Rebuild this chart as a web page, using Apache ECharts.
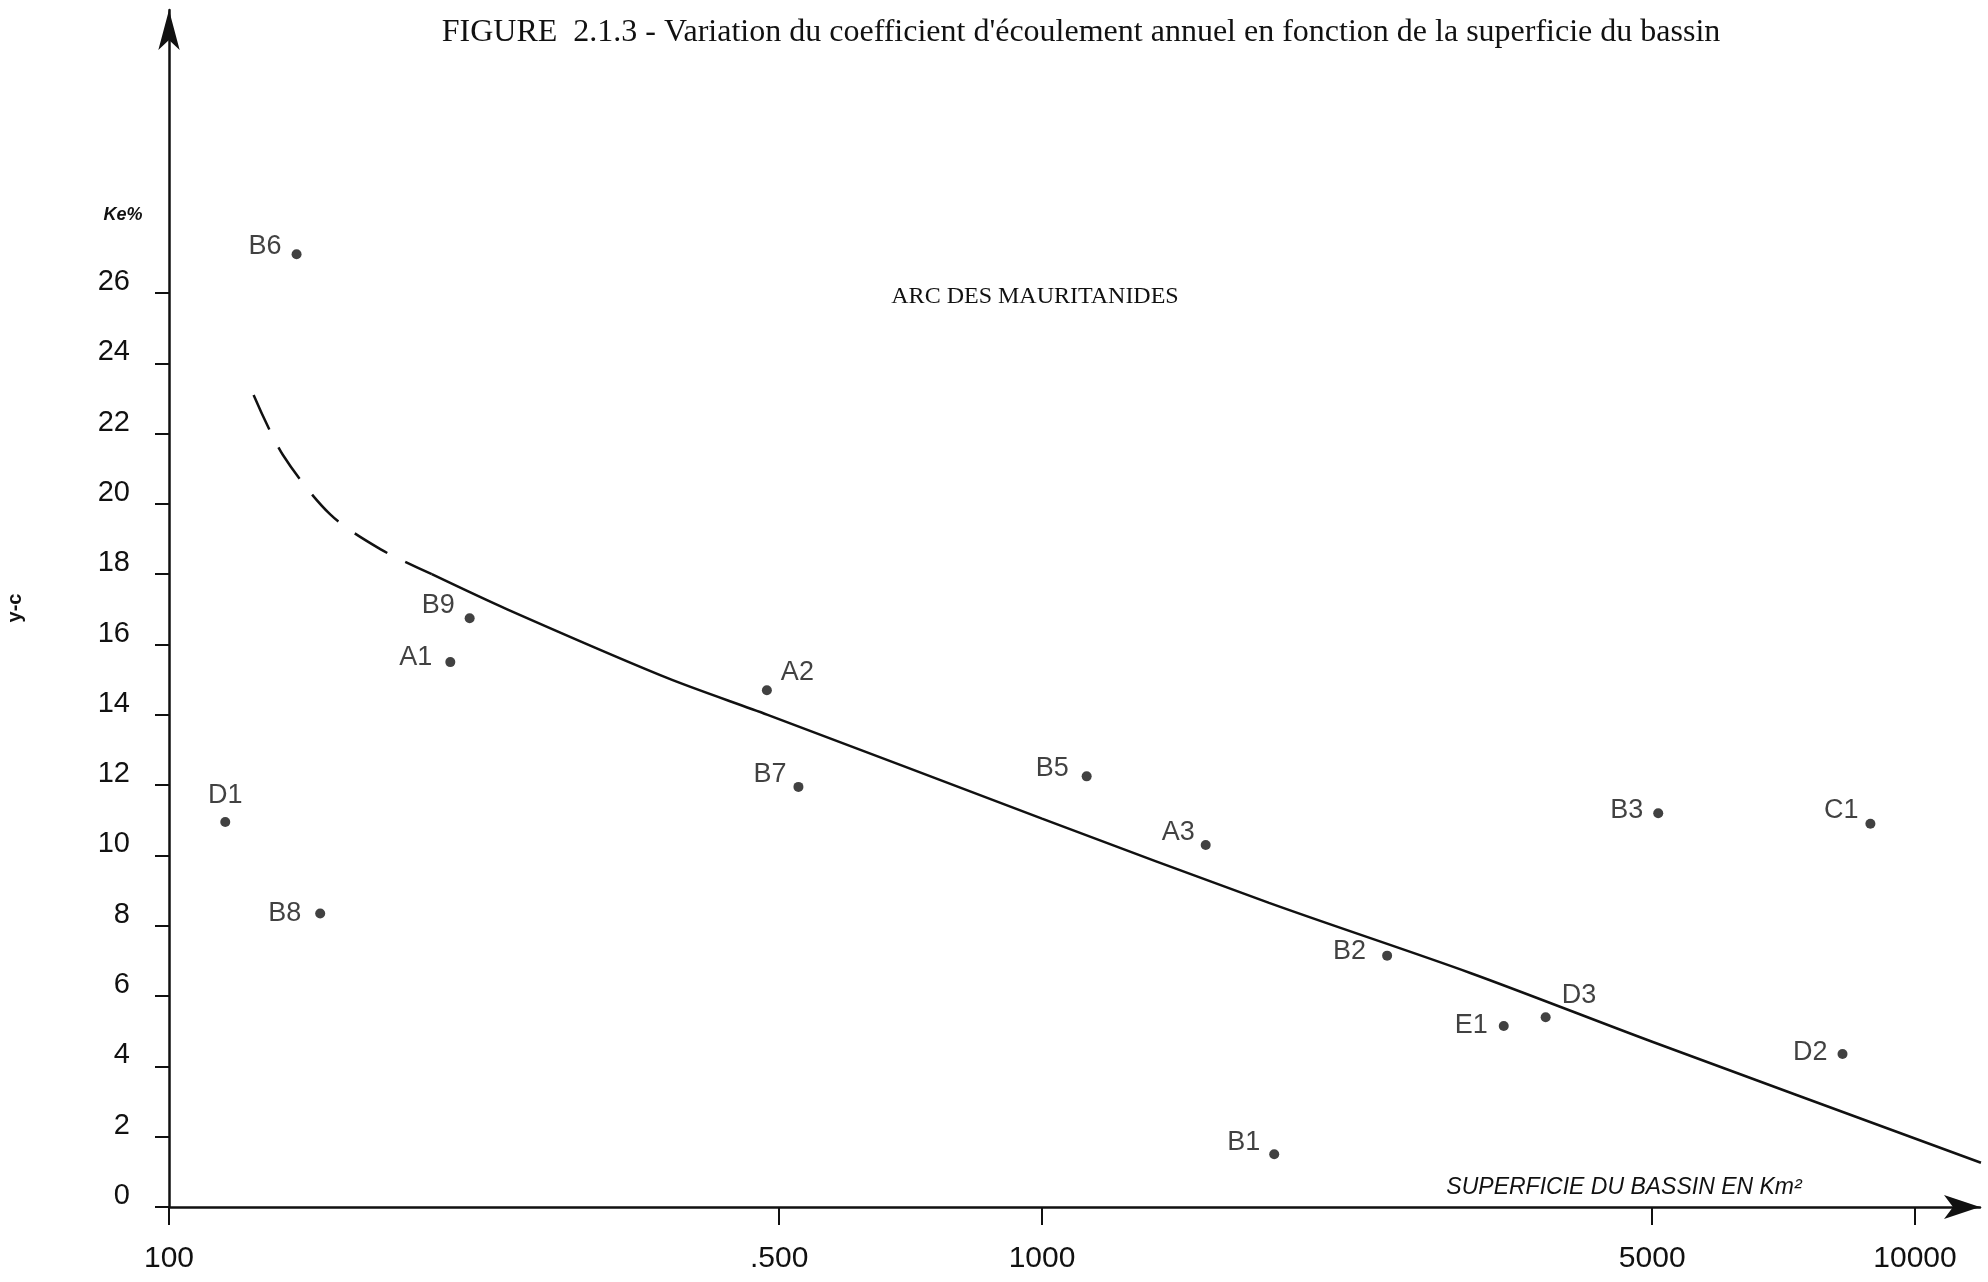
<!DOCTYPE html>
<html>
<head>
<meta charset="utf-8">
<title>Coefficient d'écoulement annuel</title>
<script src="https://cdn.jsdelivr.net/npm/echarts@6/dist/echarts.min.js"></script>
<style>
  html, body { margin: 0; padding: 0; background: #ffffff; }
  #chart { width: 1988px; height: 1282px; }
</style>
</head>
<body>
<div id="chart"></div>
<script>
// Basins: code, drainage area (km²), runoff coefficient Ke (%)
const basinCodes = ['B6', 'D1', 'B8', 'A1', 'B9', 'A2', 'B7', 'B5', 'A3', 'B1', 'B2', 'E1', 'D3', 'B3', 'D2', 'C1'];
const basinAreas = [140, 116, 149, 210, 221, 484, 526, 1125, 1540, 1845, 2485, 3380, 3775, 5080, 8260, 8890];
const basinKe    = [27.1, 10.95, 8.35, 15.5, 16.75, 14.7, 11.95, 12.25, 10.3, 1.5, 7.15, 5.15, 5.4, 11.2, 4.35, 10.9];

// Fitted trend: extrapolated (dashed) part and main (solid) part
const dashedCurveAreas = [125, 135, 153, 175, 200];
const dashedCurveKe    = [23.1, 21.4, 19.7, 18.7, 18.0];
const solidCurveAreas  = [200, 244, 372, 485, 1000, 1820, 3100, 5000, 11900];
const solidCurveKe     = [18.0, 17.0, 15.05, 14.0, 11.05, 8.65, 6.65, 4.7, 1.26];

// Axis ticks
const xTickValues = [100, 500, 1000, 5000, 10000];
const xTickLabels = ['100', '.500', '1000', '5000', '10000'];
const yTickValues = [0, 2, 4, 6, 8, 10, 12, 14, 16, 18, 20, 22, 24, 26];

// Where each basin code sits relative to its dot
const labelPlacement = {
  B6: { position: 'left', distance: 10, offset: [0, -8] },
  D1: { position: 'top', distance: 8, offset: [0, 0] },
  B8: { position: 'left', distance: 14, offset: [0, 0] },
  A1: { position: 'left', distance: 13, offset: [0, -5] },
  B9: { position: 'left', distance: 10, offset: [0, -13] },
  A2: { position: 'right', distance: 9, offset: [0, -18] },
  B7: { position: 'left', distance: 7, offset: [0, -12] },
  B5: { position: 'left', distance: 13, offset: [0, -8] },
  A3: { position: 'left', distance: 6, offset: [0, -12] },
  B1: { position: 'left', distance: 9, offset: [0, -12] },
  B2: { position: 'left', distance: 16, offset: [0, -4] },
  E1: { position: 'left', distance: 11, offset: [0, 0] },
  D3: { position: 'right', distance: 11, offset: [0, -22] },
  B3: { position: 'left', distance: 10, offset: [0, -3] },
  D2: { position: 'left', distance: 10, offset: [0, -2] },
  C1: { position: 'left', distance: 7, offset: [0, -13] }
};

const INK = '#111111';
const SANS = '"Liberation Sans", Arial, Helvetica, sans-serif';
const SERIF = '"Liberation Serif", "Times New Roman", serif';
const lg = Math.log10;

// Axis extents (the arrow tips sit at the ends)
const X_MAX_AREA = 11870;
const Y_MAX_KE = 34.05;

const pointData = basinCodes.map((code, i) => {
  const p = labelPlacement[code];
  return {
    name: code,
    value: [lg(basinAreas[i]), basinKe[i]],
    label: { position: p.position, distance: p.distance, offset: p.offset }
  };
});
const dashedData = dashedCurveAreas.map((a, i) => [lg(a), dashedCurveKe[i]]);
const solidData = solidCurveAreas.map((a, i) => [lg(a), solidCurveKe[i]]);

const chart = echarts.init(document.getElementById('chart'), null, { renderer: 'canvas' });

chart.setOption({
  backgroundColor: '#ffffff',
  animation: false,
  grid: {
    left: 169, right: 8, top: 10, bottom: 75,
    containLabel: false,
    outerBoundsMode: 'none'
  },
  xAxis: {
    type: 'value',
    min: 2,
    max: lg(X_MAX_AREA),
    splitLine: { show: false },
    axisLine: {
      show: true,
      onZero: false,
      symbol: ['none', 'arrow'],
      symbolSize: [18, 36],
      lineStyle: { color: INK, width: 2.5 }
    },
    axisTick: {
      show: true,
      inside: false,
      length: 18,
      customValues: xTickValues.map(lg),
      lineStyle: { color: INK, width: 2 }
    },
    axisLabel: {
      show: true,
      margin: 37,
      customValues: xTickValues.map(lg),
      color: INK,
      fontFamily: SANS,
      fontSize: 30,
      formatter: function (v) {
        let best = 0;
        xTickValues.forEach((t, i) => {
          if (Math.abs(lg(t) - v) < Math.abs(lg(xTickValues[best]) - v)) best = i;
        });
        return xTickLabels[best];
      }
    }
  },
  yAxis: {
    type: 'value',
    min: 0,
    max: Y_MAX_KE,
    splitLine: { show: false },
    axisLine: {
      show: true,
      onZero: false,
      symbol: ['none', 'arrow'],
      symbolSize: [16, 40],
      lineStyle: { color: INK, width: 2.5 }
    },
    axisTick: {
      show: true,
      inside: false,
      length: 14,
      customValues: yTickValues,
      lineStyle: { color: INK, width: 2 }
    },
    axisLabel: {
      show: true,
      margin: 39,
      customValues: yTickValues,
      color: INK,
      fontFamily: SANS,
      fontSize: 29,
      lineHeight: 22,
      verticalAlign: 'bottom'
    }
  },
  series: [
    {
      name: 'courbe extrapolée',
      type: 'line',
      data: dashedData,
      smooth: 0.3,
      symbol: 'none',
      clip: false,
      z: 2,
      lineStyle: { color: INK, width: 2.5, type: [38, 20] }
    },
    {
      name: 'courbe',
      type: 'line',
      data: solidData,
      smooth: 0.3,
      symbol: 'none',
      clip: false,
      z: 2,
      lineStyle: { color: INK, width: 2.5 }
    },
    {
      name: 'bassins',
      type: 'scatter',
      data: pointData,
      symbol: 'circle',
      symbolSize: 10,
      z: 3,
      itemStyle: { color: INK },
      label: {
        show: true,
        formatter: '{b}',
        color: INK,
        fontFamily: SANS,
        fontSize: 27
      }
    }
  ],
  graphic: [
    {
      type: 'text',
      x: 1081, y: 33,
      style: {
        text: "FIGURE  2.1.3 - Variation du coefficient d'écoulement annuel en fonction de la superficie du bassin",
        font: '32px ' + SERIF,
        fill: INK,
        align: 'center',
        verticalAlign: 'middle'
      }
    },
    {
      type: 'text',
      x: 1035, y: 297,
      style: {
        text: 'ARC DES MAURITANIDES',
        font: '24px ' + SERIF,
        fill: INK,
        align: 'center',
        verticalAlign: 'middle'
      }
    },
    {
      type: 'text',
      x: 1624, y: 1188,
      style: {
        text: 'SUPERFICIE DU BASSIN EN Km²',
        font: 'italic 23px ' + SANS,
        fill: INK,
        align: 'center',
        verticalAlign: 'middle'
      }
    },
    {
      type: 'text',
      x: 123, y: 215,
      style: {
        text: 'Ke%',
        font: 'italic bold 18px ' + SANS,
        fill: INK,
        align: 'center',
        verticalAlign: 'middle'
      }
    },
    {
      type: 'text',
      x: 15, y: 608,
      rotation: Math.PI / 2,
      style: {
        text: 'y-c',
        font: 'bold 20px ' + SANS,
        fill: INK,
        align: 'center',
        verticalAlign: 'middle'
      }
    }
  ]
});
</script>
</body>
</html>
